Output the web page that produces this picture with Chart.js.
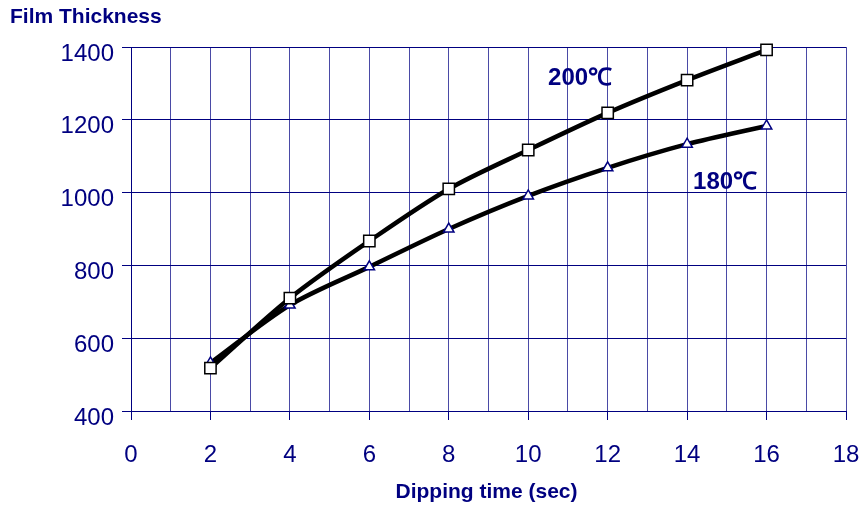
<!DOCTYPE html>
<html>
<head>
<meta charset="utf-8">
<script src="https://cdn.jsdelivr.net/npm/chart.js@4/dist/chart.umd.min.js"></script>
<style>
  html, body { margin: 0; padding: 0; background: #fff; }
  #wrap { width: 864px; height: 506px; position: relative; }
</style>
</head>
<body>
<div id="wrap"><canvas id="chart"></canvas></div>
<script>
const dipTimes = [2, 4, 6, 8, 10, 12, 14, 16];
const thick200 = [518, 710, 867, 1010, 1117, 1219, 1309, 1392];
const thick180 = [532, 691, 796, 900, 991, 1068, 1133, 1183];
const xTickLabels = [0, 2, 4, 6, 8, 10, 12, 14, 16, 18];
const yTickLabels = [400, 600, 800, 1000, 1200, 1400];

const NAVY = "#000080";
const FONT = "'Liberation Sans', Arial, sans-serif";

// text drawn straight on the canvas: axis titles + series names
const textPlugin = {
    id: "texts",
    afterDraw(chart) {
        const { ctx, scales, chartArea } = chart;
        ctx.save();
        ctx.fillStyle = NAVY;
        ctx.textBaseline = "middle";
        ctx.textAlign = "left";
        ctx.font = "bold 21px " + FONT;
        ctx.fillText("Film Thickness", 10, 17);

        ctx.textAlign = "center";
        ctx.fillText("Dipping time (sec)", (chartArea.left + chartArea.right) / 2 - 2, 492);

        ctx.textAlign = "left";
        ctx.font = "bold 24px " + FONT;
        ctx.fillText("200℃", scales.x.getPixelForValue(10.5), scales.y.getPixelForValue(1315));
        ctx.fillText("180℃", scales.x.getPixelForValue(14.15), scales.y.getPixelForValue(1029));
        ctx.restore();
    },
};

new Chart(document.getElementById("chart"), {
    type: "line",
    data: {
        datasets: [
            {
                label: "200℃",
                data: dipTimes.map((x, i) => ({ x, y: thick200[i] })),
                borderColor: "#000",
                borderWidth: 4.5,
                tension: 0.3,
                clip: false,
                pointStyle: "rect",
                pointRadius: 8,
                pointBackgroundColor: "#fff",
                pointBorderColor: "#000",
                pointBorderWidth: 1.5,
            },
            {
                label: "180℃",
                data: dipTimes.map((x, i) => ({ x, y: thick180[i] })),
                borderColor: "#000",
                borderWidth: 4.5,
                tension: 0.3,
                clip: false,
                pointStyle: "triangle",
                pointRadius: 6,
                pointBackgroundColor: "#fff",
                pointBorderColor: NAVY,
                pointBorderWidth: 1.5,
            },
        ],
    },
    options: {
        responsive: true,
        maintainAspectRatio: false,
        animation: false,
        layout: { padding: { left: 0, top: 47, right: 0, bottom: 0 } },
        plugins: {
            legend: { display: false },
            tooltip: { enabled: false },
        },
        scales: {
            x: {
                type: "linear",
                min: 0,
                max: 18,
                afterFit: (s) => {
                    s.height = 95;
                    s.paddingRight = 18;
                    s.paddingLeft = 0;
                },
                afterBuildTicks: (s) => {
                    s.ticks = [];
                    for (let v = 0; v <= 18; v++) s.ticks.push({ value: v });
                },
                ticks: {
                    color: NAVY,
                    font: { family: FONT, size: 24 },
                    padding: 21,
                    maxRotation: 0,
                    autoSkip: false,
                    callback: (v) => (xTickLabels.includes(v) ? String(v) : ""),
                },
                grid: {
                    color: "#4a4aa6",
                    lineWidth: 1,
                    tickLength: 9,
                    tickColor: (c) => (c.tick && c.tick.value % 2 === 0 ? NAVY : "rgba(0,0,0,0)"),
                },
                border: { color: NAVY, width: 1 },
            },
            y: {
                min: 400,
                max: 1400,
                afterFit: (s) => {
                    s.width = 131;
                    s.paddingTop = 0;
                },
                afterBuildTicks: (s) => {
                    s.ticks = yTickLabels.map((v) => ({ value: v }));
                },
                ticks: {
                    color: NAVY,
                    font: { family: FONT, size: 24 },
                    padding: 8,
                    labelOffset: 7,
                    callback: (v) => String(v),
                },
                grid: {
                    color: NAVY,
                    lineWidth: 1,
                    tickLength: 9,
                    tickColor: NAVY,
                },
                border: { color: NAVY, width: 1 },
            },
        },
    },
    plugins: [textPlugin],
});
</script>
</body>
</html>
